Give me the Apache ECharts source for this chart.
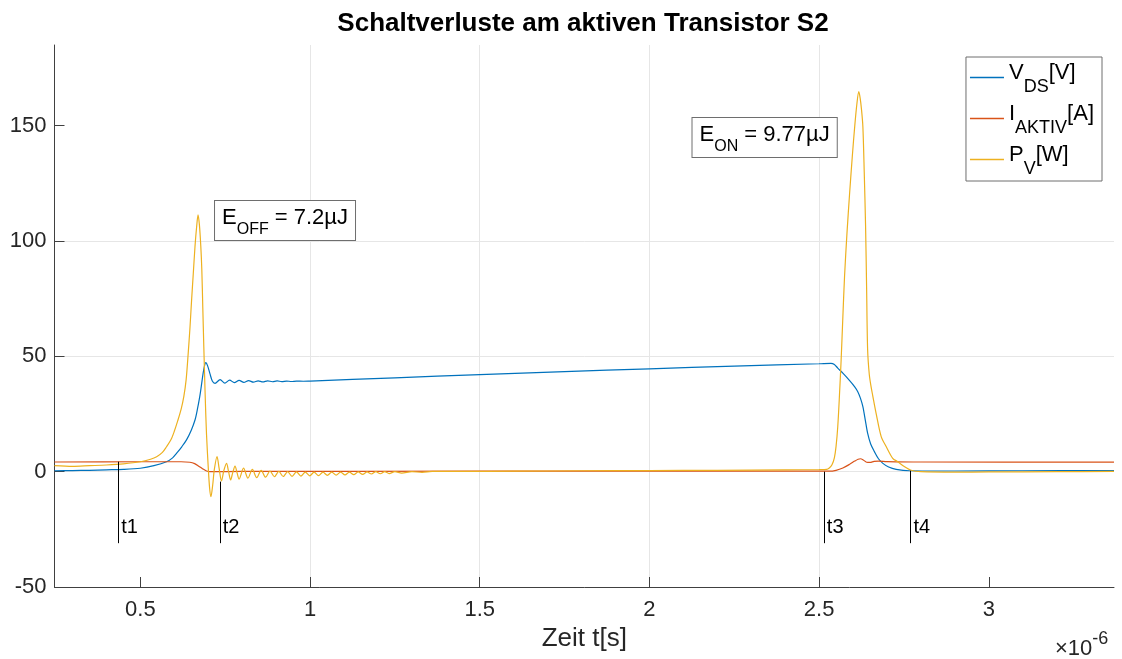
<!DOCTYPE html>
<html><head><meta charset="utf-8">
<script src="https://cdn.jsdelivr.net/npm/echarts@6/dist/echarts.min.js"></script>
<style>html,body{margin:0;padding:0;background:#fff}#c{width:1122px;height:659px}</style>
</head><body><div id="c"></div>
<script>
const FONT = '"Liberation Sans", Arial, Helvetica, sans-serif';
const xTicks = [0.5, 1, 1.5, 2, 2.5, 3];
const yTicks = [-50, 0, 50, 100, 150];

// time in µs, value
const vds = [[0.247,0.4],[0.3,0.5],[0.35,0.6],[0.4,0.8],[0.45,1.0],[0.5,1.5],[0.54,2.6],[0.577,4.3],[0.595,6],[0.607,8],[0.622,10.8],[0.636,13.8],[0.65,18],[0.661,22.4],[0.668,27],[0.675,32.5],[0.68,37.5],[0.685,42.7],[0.69,46.5],[0.693,47.3],[0.698,46],[0.705,42.5],[0.712,39.3],[0.72,38.3],[0.735,39.9],[0.749,38.4],[0.763,39.7],[0.777,38.6],[0.791,39.6],[0.805,38.7],[0.819,39.5],[0.833,38.8],[0.847,39.4],[0.861,38.9],[0.875,39.4],[0.889,39.0],[0.903,39.35],[0.917,39.05],[0.931,39.3],[0.945,39.1],[0.96,39.25],[0.98,39.2],[1.0,39.3],[1.25,40.7],[1.5,42.1],[1.75,43.4],[2.0,44.6],[2.25,45.8],[2.5,46.8],[2.535,47],[2.545,46.5],[2.555,44.9],[2.57,42.7],[2.59,39.5],[2.605,36.8],[2.614,34.7],[2.622,31.8],[2.629,28.2],[2.636,22.5],[2.643,16.7],[2.652,12],[2.663,8.7],[2.675,5.6],[2.688,3.6],[2.705,2],[2.727,1],[2.766,0.4],[2.9,0.3],[3.1,0.4],[3.369,0.5]];

const iakt = [[0.247,4.2],[0.5,4.3],[0.62,4.3],[0.646,4.1],[0.66,3.5],[0.672,2.4],[0.684,1.2],[0.695,0.3],[0.705,0],[0.8,0.1],[1.5,0.2],[2.5,0.2],[2.53,0.2],[2.55,0.6],[2.57,1.6],[2.59,3.2],[2.605,4.6],[2.615,5.4],[2.622,5.6],[2.63,5.1],[2.64,4.1],[2.65,4.0],[2.662,4.5],[2.675,4.6],[2.7,4.4],[2.8,4.2],[3.369,4.1]];

const pv = [[0.247,2.6],[0.3,2.3],[0.35,2.6],[0.4,2.9],[0.45,3.4],[0.5,4.3],[0.53,5.4],[0.548,6.5],[0.565,8.4],[0.577,10.8],[0.59,13.8],[0.6,17.5],[0.61,22],[0.62,27],[0.628,32.5],[0.635,40],[0.641,51.4],[0.646,62],[0.651,74.5],[0.656,86],[0.661,97.6],[0.666,106.5],[0.67,111.4],[0.674,107],[0.678,98],[0.681,88],[0.684,71],[0.687,54],[0.691,33],[0.695,16],[0.7,2],[0.704,-7],[0.708,-10.8],[0.713,-6],[0.718,1],[0.726,6.5],[0.732,1.5],[0.739,-4],[0.746,0.5],[0.754,3.6],[0.76,0],[0.766,-3.6],[0.772,-0.5],[0.779,2.4],[0.785,-0.5],[0.791,-3.2],[0.804,1.5],[0.817,-2.8],[0.830,1.0],[0.843,-2.6],[0.856,0.6],[0.869,-2.4],[0.882,0.3],[0.895,-2.2],[0.908,0.1],[0.921,-2.1],[0.934,0],[0.947,-2.0],[0.96,-0.1],[0.973,-1.9],[0.986,-0.2],[0.999,-1.8],[1.012,-0.2],[1.025,-1.7],[1.038,-0.2],[1.051,-1.6],[1.064,-0.2],[1.077,-1.5],[1.09,-0.2],[1.103,-1.4],[1.116,-0.2],[1.129,-1.3],[1.142,-0.1],[1.155,-1.2],[1.168,-0.1],[1.181,-1.0],[1.194,0],[1.207,-0.9],[1.22,0],[1.233,-0.8],[1.25,0],[1.27,-0.6],[1.3,0],[1.33,-0.3],[1.36,0.1],[1.45,0.1],[1.6,0.2],[1.8,0.4],[2.0,0.5],[2.2,0.6],[2.4,0.8],[2.5,0.9],[2.522,1.0],[2.53,1.6],[2.538,3],[2.545,6],[2.55,11],[2.555,19.5],[2.56,33],[2.565,48.5],[2.57,67],[2.575,84.6],[2.582,103],[2.59,120.8],[2.598,137],[2.605,149.7],[2.611,159],[2.617,164.8],[2.621,162],[2.625,157],[2.629,149.7],[2.633,130],[2.637,106.3],[2.64,80],[2.643,53],[2.648,42],[2.653,37],[2.658,33],[2.668,25.3],[2.683,15.2],[2.698,10.8],[2.717,5.8],[2.732,4.3],[2.751,2.2],[2.771,0.6],[2.8,0],[2.9,-0.2],[3.0,-0.1],[3.2,0],[3.369,0.1]];

const markerT = [0.435, 0.734, 2.514, 2.769];
const markerTop = [4.3, -4.3, 0, 0.4];
const markerBottom = -31;
const markerLabelY = -24.4;
const markerLabels = ['t1', 't2', 't3', 't4'];

const annoCoord = [[0.72, 117.4], [2.127, 153.4]];
const annoMain = ['E', 'E'];
const annoSub = ['OFF', 'ON'];
const annoRest = [' = 7.2µJ', ' = 9.77µJ'];

const seriesNames = ['vds', 'iakt', 'pv'];
const legendMain = ['V', 'I', 'P'];
const legendSub = ['DS', 'AKTIV', 'V'];
const legendRest = ['[V]', '[A]', '[W]'];
const colors = ['#0072BD', '#D95319', '#EDB120'];

const chart = echarts.init(document.getElementById('c'), null, {renderer: 'canvas'});

const legendRich = {
  m: {fontSize: 22, height: 28, verticalAlign: 'top', fontFamily: FONT, color: '#000'},
  s: {fontSize: 18, height: 18, padding: [19, 0, 0, 0], verticalAlign: 'bottom', fontFamily: FONT, color: '#000'}
};
const annoRich = {
  m: {fontSize: 22, height: 28, verticalAlign: 'top', fontFamily: FONT, color: '#000'},
  s: {fontSize: 16, height: 16, padding: [18, 0, 0, 0], verticalAlign: 'bottom', fontFamily: FONT, color: '#000'}
};

const axisColor = '#404040';
const gridColor = '#e6e6e6';

const option = {
  animation: false,
  backgroundColor: '#fff',
  color: colors,
  title: {
    text: 'Schaltverluste am aktiven Transistor S2',
    left: 578, top: 6, textAlign: 'center',
    textStyle: {fontSize: 26, fontWeight: 'bold', color: '#000', fontFamily: FONT}
  },
  grid: {left: 54.5, right: 8, top: 45, bottom: 72, containLabel: false},
  legend: {
    orient: 'vertical', right: 20, top: 57,
    data: seriesNames.map(n => ({name: n, icon: 'rect'})),
    formatter: function (name) {
      const i = seriesNames.indexOf(name);
      return '{m|' + legendMain[i] + '}{s|' + legendSub[i] + '}{m|' + legendRest[i] + '}';
    },
    itemWidth: 34, itemHeight: 1.3, itemGap: 7,
    padding: [5, 8, 3, 4],
    borderColor: '#6e6e6e', borderWidth: 1, backgroundColor: '#fff',
    textStyle: {rich: legendRich, fontFamily: FONT},
    selectedMode: false
  },
  xAxis: {
    type: 'value', min: 0.247, max: 3.369,
    axisLine: {show: true, onZero: false, lineStyle: {color: axisColor, width: 1}},
    axisTick: {show: true, inside: true, length: 10, customValues: xTicks, lineStyle: {color: axisColor}},
    axisLabel: {customValues: xTicks, fontSize: 22, color: '#262626', fontFamily: FONT, margin: 12,
      formatter: v => String(v)},
    splitLine: {show: true, showMinLine: false, showMaxLine: false, lineStyle: {color: gridColor, width: 1}},
    name: 'Zeit t[s]', nameLocation: 'middle', nameGap: 37,
    nameTextStyle: {fontSize: 26, color: '#262626', fontFamily: FONT}
  },
  yAxis: {
    type: 'value', min: -50, max: 185, interval: 50,
    axisLine: {show: true, onZero: false, lineStyle: {color: axisColor, width: 1}},
    axisTick: {show: true, inside: true, length: 10, customValues: yTicks, lineStyle: {color: axisColor}},
    axisLabel: {customValues: yTicks, fontSize: 22, color: '#262626', fontFamily: FONT, margin: 8},
    splitLine: {show: true, showMinLine: false, showMaxLine: false, lineStyle: {color: gridColor, width: 1}}
  },
  graphic: [{
    type: 'text', left: 1055, top: 630, silent: true,
    style: {
      text: '{a|×10}{b|-6}',
      rich: {
        a: {fontSize: 22, height: 26, verticalAlign: 'bottom', fontFamily: FONT, fill: '#262626', color: '#262626'},
        b: {fontSize: 18, height: 16, padding: [0, 0, 15, 0], verticalAlign: 'top', fontFamily: FONT, fill: '#262626', color: '#262626'}
      }
    }
  }],
  series: [
    {
      name: 'vds', type: 'line', data: vds, symbol: 'none', showSymbol: false, smooth: 0.3,
      lineStyle: {width: 1.2, color: colors[0]}, itemStyle: {color: colors[0]},
      markPoint: {
        symbol: 'rect', symbolSize: 0, silent: true,
        data: markerT.map((t, i) => ({coord: [t, markerLabelY], name: markerLabels[i]})),
        label: {show: true, position: 'right', distance: 3, formatter: '{b}', fontSize: 20, color: '#000', fontFamily: FONT}
      }
    },
    {
      name: 'iakt', type: 'line', data: iakt, symbol: 'none', showSymbol: false, smooth: 0.3,
      lineStyle: {width: 1.2, color: colors[1]}, itemStyle: {color: colors[1]},
      markLine: {
        symbol: ['none', 'none'], silent: true, animation: false,
        label: {show: false},
        lineStyle: {color: '#000', width: 1, type: 'solid'},
        data: markerT.map((t, i) => [{coord: [t, markerTop[i]]}, {coord: [t, markerBottom]}])
      }
    },
    {
      name: 'pv', type: 'line', data: pv, symbol: 'none', showSymbol: false, smooth: 0.3,
      lineStyle: {width: 1.2, color: colors[2]}, itemStyle: {color: colors[2]},
      markPoint: {
        symbol: 'rect', symbolSize: 0, silent: true,
        data: annoCoord.map((c, i) => ({
          coord: c,
          label: {formatter: '{m|' + annoMain[i] + '}{s|' + annoSub[i] + '}{m|' + annoRest[i] + '}'}
        })),
        label: {
          show: true, position: [0, 0],
          backgroundColor: '#fff', borderColor: '#6e6e6e', borderWidth: 1,
          padding: [3, 7, 2, 7], rich: annoRich
        }
      }
    }
  ]
};
chart.setOption(option);
</script>
</body></html>
